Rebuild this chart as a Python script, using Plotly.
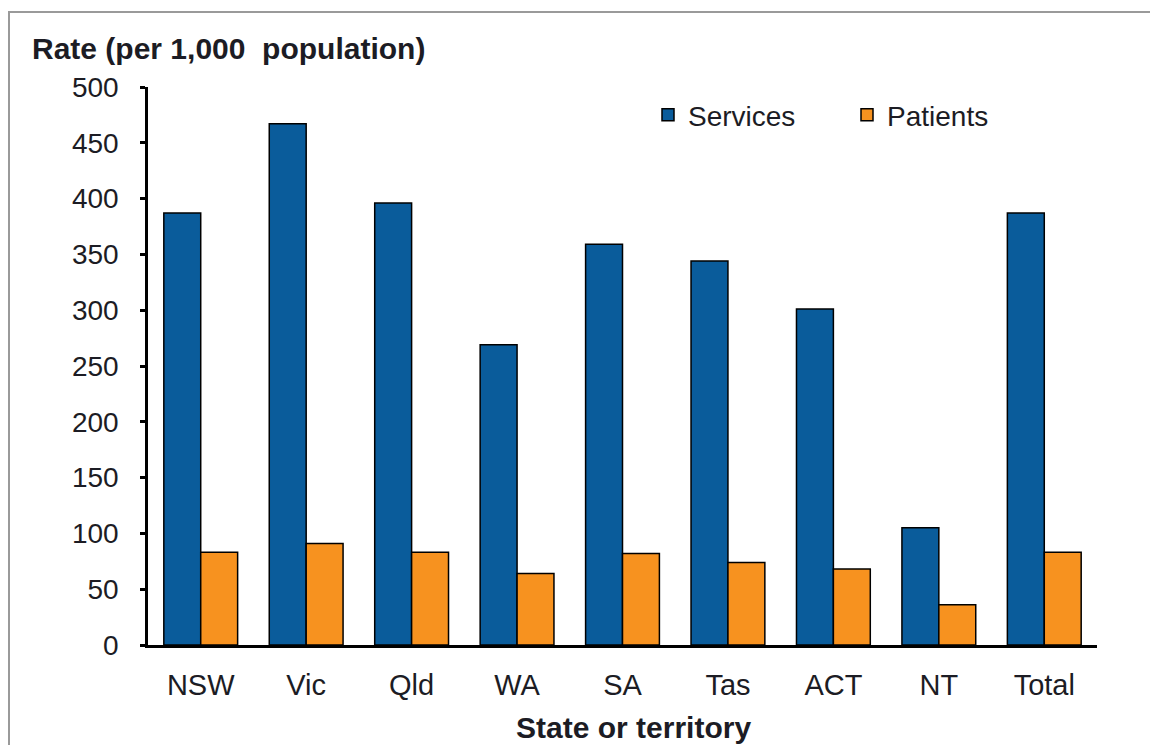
import plotly.graph_objects as go

categories = ["NSW", "Vic", "Qld", "WA", "SA", "Tas", "ACT", "NT", "Total"]
services = [387, 467, 396, 269, 359, 344, 301, 105, 387]
patients = [83, 91, 83, 64, 82, 74, 68, 36, 83]
y_ticks = [0, 50, 100, 150, 200, 250, 300, 350, 400, 450, 500]

OFF = 8  # page body margin
W, H = 1158 - OFF, 745 - OFF
L, R, T, B = 148 - OFF, 1097 - OFF, 87 - OFF, 645 - OFF
pw, ph = R - L, B - T

def px_x(x):
    return (x - OFF - L) / pw

def px_y(y):
    return (B - (y - OFF)) / ph

FONT = "Liberation Sans, Arial, sans-serif"
TXT = "#1c1c24"

fig = go.Figure()
fig.add_trace(go.Bar(x=categories, y=services, name="Services",
                     marker=dict(color="#0A5C9B", line=dict(color="#000000", width=1.5))))
fig.add_trace(go.Bar(x=categories, y=patients, name="Patients",
                     marker=dict(color="#F7921F", line=dict(color="#000000", width=1.5))))

fig.update_layout(
    width=W, height=H,
    margin=dict(l=L, r=W - R, t=T, b=H - B, pad=0),
    paper_bgcolor="white", plot_bgcolor="white",
    barmode="group", bargap=0.3, bargroupgap=0,
    font=dict(family=FONT, size=28, color=TXT),
    showlegend=True,
    legend=dict(orientation="h", x=px_x(648), xanchor="left", y=px_y(115), yanchor="middle",
                bgcolor="rgba(0,0,0,0)", font=dict(size=28, color=TXT),
                entrywidth=154, itemwidth=30, traceorder="normal"),
    xaxis=dict(showline=True, linecolor="black", linewidth=3, ticks="",
               showgrid=False, zeroline=False, ticklabelstandoff=12,
               tickfont=dict(size=29, color=TXT)),
    yaxis=dict(range=[0, 500], tickvals=y_ticks, showline=True, linecolor="black", linewidth=2.5,
               ticks="outside", ticklen=5, tickwidth=2.5, tickcolor="black",
               showgrid=False, zeroline=False, ticklabelstandoff=16,
               tickfont=dict(size=28, color=TXT)),
    annotations=[
        dict(text="<b>Rate (per 1,000  population)</b>", x=px_x(30), y=px_y(48),
             xref="paper", yref="paper", xanchor="left", yanchor="middle",
             showarrow=False, font=dict(size=30, color=TXT)),
        dict(text="<b>State or territory</b>", x=px_x(633), y=px_y(727),
             xref="paper", yref="paper", xanchor="center", yanchor="middle",
             showarrow=False, font=dict(size=30, color=TXT)),
    ],
    shapes=[
        dict(type="rect", xref="paper", yref="paper",
             x0=px_x(9), x1=px_x(1175), y0=px_y(770), y1=px_y(12),
             line=dict(color="#9a9a9a", width=2), fillcolor="rgba(0,0,0,0)", layer="below"),
    ],
)

fig.write_html("out.html")
